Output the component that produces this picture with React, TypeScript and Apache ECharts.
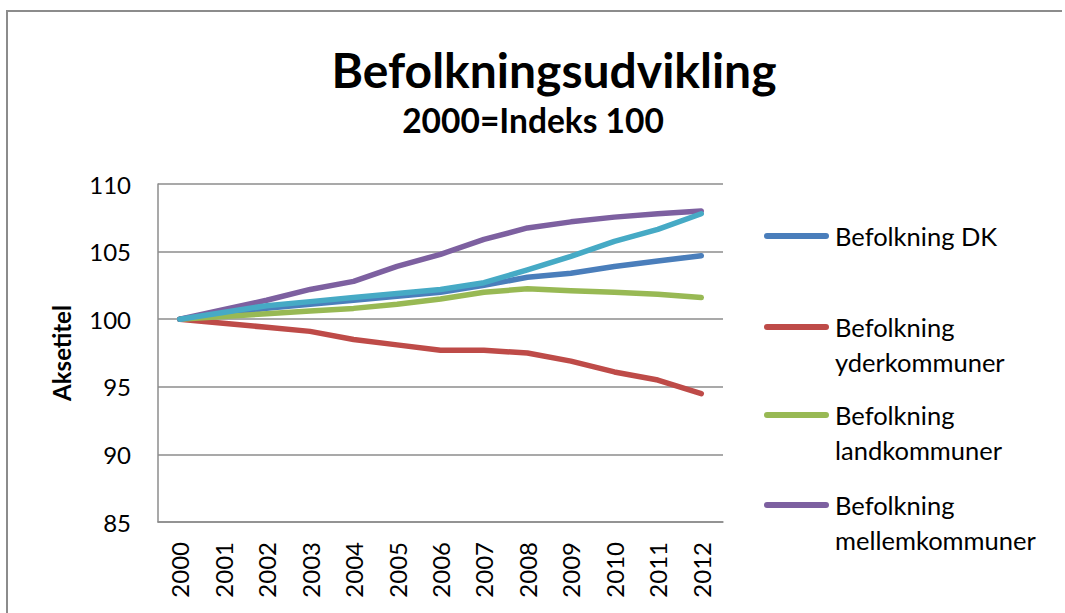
import React, { useEffect, useRef } from "react";
import * as echarts from "echarts";

const years = ["2000", "2001", "2002", "2003", "2004", "2005", "2006", "2007", "2008", "2009", "2010", "2011", "2012"];
const dk = [100, 100.4, 100.8, 101.1, 101.4, 101.7, 102.0, 102.5, 103.1, 103.4, 103.9, 104.3, 104.7];
const yder = [100, 99.7, 99.4, 99.1, 98.5, 98.1, 97.7, 97.7, 97.5, 96.9, 96.1, 95.5, 94.5];
const land = [100, 100.2, 100.4, 100.6, 100.8, 101.1, 101.5, 102.0, 102.25, 102.1, 102.0, 101.85, 101.6];
const mellem = [100, 100.7, 101.4, 102.2, 102.8, 103.9, 104.8, 105.9, 106.75, 107.2, 107.55, 107.8, 108.0];
const by = [100, 100.5, 101.0, 101.3, 101.6, 101.9, 102.2, 102.7, 103.65, 104.65, 105.75, 106.65, 107.8];

const seriesNames = [
  "Befolkning DK",
  "Befolkning yderkommuner",
  "Befolkning landkommuner",
  "Befolkning mellemkommuner",
  "Befolkning bykommuner",
];
const legendLabels = [
  "Befolkning DK",
  "Befolkning\nyderkommuner",
  "Befolkning\nlandkommuner",
  "Befolkning\nmellemkommuner",
];
const colors = ["#4A7EBB", "#BE4B48", "#98B954", "#7D60A0", "#46AAC5"];

const FONT = "Lato, 'Liberation Sans', sans-serif";

export default function App() {
  const ref = useRef<HTMLDivElement>(null);
  useEffect(() => {
    if (!ref.current) return;
    const chart = echarts.init(ref.current, null, { renderer: "svg" });
    const data = [dk, yder, land, mellem, by];
    const legendY = [236, 327, 415, 505];
    const graphic: any[] = [
      {
        type: "polyline",
        shape: { points: [[7, 800], [7, 11], [1062, 11]] },
        style: { fill: "none", stroke: "#8c8c8c", lineWidth: 2 },
        silent: true,
      },
    ];
    legendLabels.forEach((label, i) => {
      graphic.push({
        type: "line",
        shape: { x1: 767, y1: legendY[i], x2: 826, y2: legendY[i] },
        style: { stroke: colors[i], lineWidth: 6, lineCap: "round" },
      });
      graphic.push({
        type: "text",
        x: 835,
        y: legendY[i] - 17.5,
        style: {
          text: label,
          font: `25.5px ${FONT}`,
          fill: "#000",
          lineHeight: 35,
          verticalAlign: "top",
          align: "left",
        },
      });
    });
    chart.setOption({
      animation: false,
      backgroundColor: "#fff",
      title: [
        {
          text: "Befolkningsudvikling",
          left: 549,
          top: 40,
          textAlign: "center",
          textStyle: { fontFamily: FONT, fontWeight: "bold", fontSize: 48, color: "#000" },
        },
        {
          text: "2000=Indeks 100",
          left: 528,
          top: 98,
          textAlign: "center",
          textStyle: { fontFamily: FONT, fontWeight: "bold", fontSize: 33.5, color: "#000" },
        },
      ],
      grid: { left: 158, top: 184, right: 342, bottom: 91, containLabel: false },
      xAxis: {
        type: "category",
        data: years,
        boundaryGap: true,
        axisLine: { lineStyle: { color: "#8c8c8c", width: 1.5 } },
        axisTick: { show: false },
        axisLabel: { rotate: 90, margin: 20, fontSize: 24, fontFamily: FONT, color: "#000", interval: 0 },
      },
      yAxis: {
        type: "value",
        min: 85,
        max: 110,
        interval: 5,
        name: "Aksetitel",
        nameLocation: "middle",
        nameGap: 85,
        nameTextStyle: { fontFamily: FONT, fontWeight: "bold", fontSize: 24, color: "#000" },
        axisLine: { show: true, lineStyle: { color: "#8c8c8c", width: 1.5 } },
        axisTick: { show: false },
        axisLabel: { margin: 27, fontSize: 24, fontFamily: FONT, color: "#000" },
        splitLine: { lineStyle: { color: "#8c8c8c", width: 1.5 } },
      },
      series: seriesNames.map((name, i) => ({
        name,
        type: "line",
        data: data[i],
        symbol: "none",
        lineStyle: { color: colors[i], width: 5.5, cap: "round", join: "round" },
        itemStyle: { color: colors[i] },
        z: 2 + i,
      })),
      graphic,
    });
    return () => chart.dispose();
  }, []);
  return (
    <div
      ref={ref}
      style={{ position: "absolute", left: 0, top: 0, width: 1065, height: 613, background: "#fff" }}
    />
  );
}
